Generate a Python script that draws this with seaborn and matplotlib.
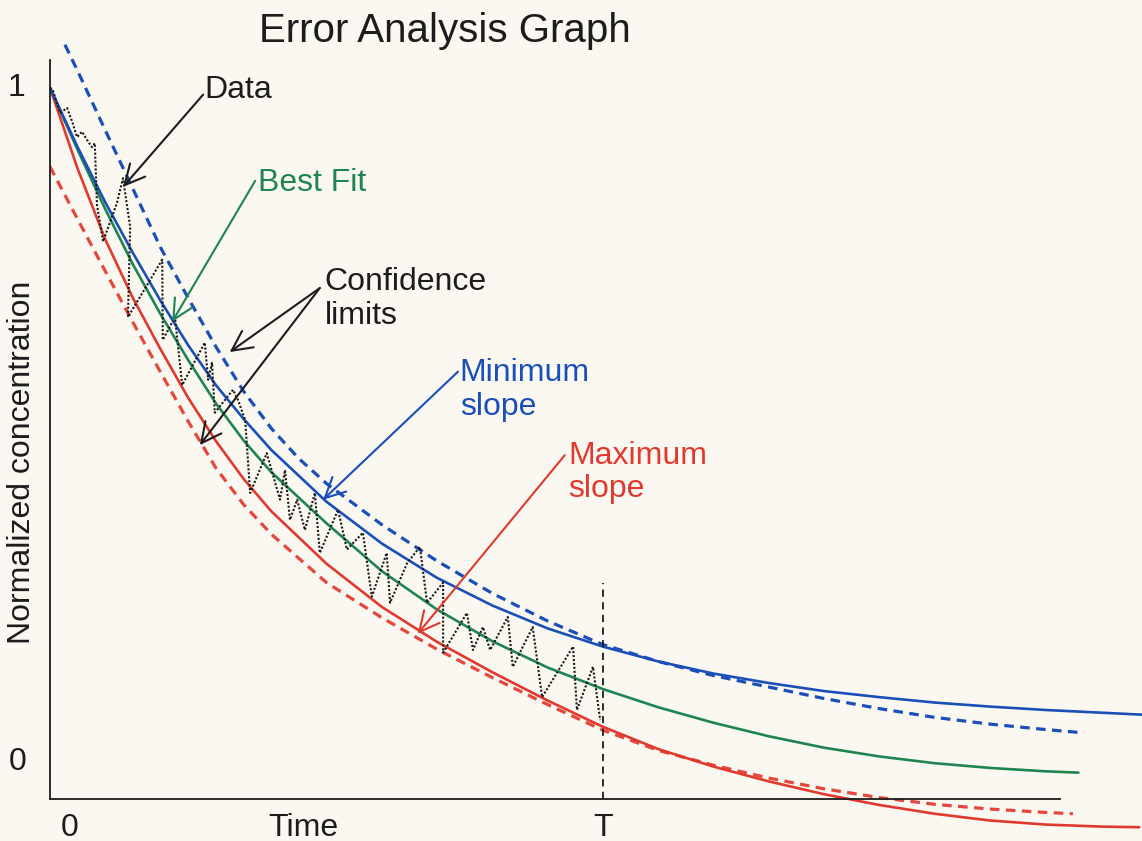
import matplotlib
matplotlib.use("Agg")
import matplotlib.pyplot as plt
import pandas as pd
import seaborn as sns

# ---------------- data ----------------
# time axis: 0 .. T (T = 1); concentration normalised 0 .. 1
best_fit_t = [0, .05, .1, .15, .2, .25, .3, .35, .4, .5, .6, .7, .8, .9, 1.0,
              1.1, 1.2, 1.3, 1.4, 1.5, 1.6, 1.7, 1.8, 1.86]
best_fit_y = [1.000, .908, .820, .738, .664, .596, .532, .477, .430, .354, .283,
              .226, .179, .140, .108, .081, .058, .038, .021, .008, -.002, -.009,
              -.014, -.016]

min_slope_t = [0, .05, .1, .15, .2, .25, .3, .35, .4, .5, .6, .7, .8, .9, 1.0,
               1.1, 1.2, 1.3, 1.4, 1.5, 1.6, 1.7, 1.8, 1.9, 1.975]
min_slope_y = [1.000, .912, .830, .755, .684, .618, .559, .509, .463, .386, .324,
               .273, .232, .198, .171, .149, .131, .117, .105, .096, .088, .082,
               .077, .073, .070]

max_slope_t = [0, .05, .1, .15, .2, .25, .3, .35, .4, .5, .6, .7, .8, .9, 1.0,
               1.1, 1.2, 1.3, 1.4, 1.5, 1.6, 1.7, 1.8, 1.9, 1.97]
max_slope_y = [1.000, .880, .775, .688, .612, .540, .476, .420, .372, .294, .230,
               .178, .133, .091, .052, .019, -.007, -.029, -.048, -.064, -.077,
               -.087, -.093, -.096, -.097]

upper_conf_t = [.027, .05, .1, .15, .2, .25, .3, .35, .4, .45, .5, .6, .7, .8, .9,
                1.0, 1.1, 1.2, 1.3, 1.4, 1.5, 1.6, 1.7, 1.8, 1.87]
upper_conf_y = [1.064, 1.025, .937, .850, .763, .688, .616, .550, .495, .450, .413,
                .352, .298, .250, .209, .174, .149, .128, .111, .094, .079, .066,
                .056, .048, .043]

lower_conf_t = [0, .05, .1, .15, .2, .25, .3, .35, .4, .5, .6, .7, .8, .9, 1.0,
                1.1, 1.2, 1.3, 1.4, 1.5, 1.6, 1.7, 1.8, 1.85]
lower_conf_y = [.883, .805, .728, .652, .578, .505, .436, .382, .338, .266, .214,
                .167, .125, .085, .047, .017, -.005, -.024, -.040, -.053, -.063,
                -.070, -.075, -.077]

data_t = [0.000, 0.005, 0.018, 0.031, 0.040, 0.049, 0.058, 0.069, 0.076, 0.081,
          0.085, 0.096, 0.121, 0.132, 0.145, 0.141, 0.203, 0.204, 0.226, 0.239,
          0.280, 0.286, 0.293, 0.298, 0.331, 0.340, 0.353, 0.362, 0.392, 0.416,
          0.425, 0.434, 0.447, 0.461, 0.479, 0.488, 0.521, 0.537, 0.566, 0.582,
          0.609, 0.615, 0.646, 0.669, 0.682, 0.711, 0.711, 0.754, 0.765, 0.783,
          0.796, 0.828, 0.837, 0.873, 0.890, 0.946, 0.953, 0.982, 0.995]
data_y = [1.000, 0.997, 0.963, 0.970, 0.950, 0.927, 0.935, 0.920, 0.912, 0.918,
          0.826, 0.772, 0.829, 0.866, 0.794, 0.660, 0.745, 0.626, 0.660, 0.559,
          0.622, 0.567, 0.592, 0.518, 0.552, 0.537, 0.507, 0.399, 0.458, 0.389,
          0.433, 0.359, 0.389, 0.344, 0.399, 0.310, 0.374, 0.315, 0.340, 0.245,
          0.310, 0.236, 0.295, 0.319, 0.236, 0.266, 0.162, 0.221, 0.166, 0.200,
          0.166, 0.215, 0.141, 0.200, 0.096, 0.171, 0.077, 0.141, 0.062]

T_time = 1.0
T_line_top = 0.266
axis_level = -0.055
y_axis_top = 1.042
x_axis_end = 1.826

x_tick_labels = ["0", "Time", "T"]
y_tick_labels = ["1", "0"]

# ---------------- style ----------------
sns.set_theme(style="white")
plt.rcParams["font.family"] = ["Liberation Sans", "DejaVu Sans"]
BG = "#fbf8f1"
BLUE = "#1a4fb8"
GREEN = "#1f8450"
RED = "#e03a30"
RED_D = "#e5473c"
INK = "#1c1c1c"

fig = plt.figure(figsize=(11.42, 8.41), dpi=100, facecolor=BG)
ax = fig.add_axes([50 / 1142, 5 / 841, 1092 / 1142, 796 / 841])
ax.set_facecolor(BG)


def curve(t, y, **kw):
    df = pd.DataFrame({"t": t, "y": y})
    sns.lineplot(data=df, x="t", y="y", ax=ax, sort=False, estimator=None, **kw)


curve(upper_conf_t, upper_conf_y, color=BLUE, lw=2.3, dashes=(3, 2))
curve(lower_conf_t, lower_conf_y, color=RED_D, lw=2.3, dashes=(3, 2))
curve(max_slope_t, max_slope_y, color=RED, lw=1.9)
curve(best_fit_t, best_fit_y, color=GREEN, lw=1.9)
curve(min_slope_t, min_slope_y, color=BLUE, lw=1.9)
curve(data_t, data_y, color="#1a1a1a", lw=1.5, dashes=(1, 0.9))

ax.vlines(T_time, axis_level, T_line_top, colors=INK, lw=1.3,
          linestyles=(0, (4, 3)))

ax.set_xlim(0, 1.975)
ax.set_ylim(-0.110, 1.071)
ax.set_xticks([])
ax.set_yticks([])
ax.set_xlabel("")
ax.set_ylabel("")
for s in ["top", "right"]:
    ax.spines[s].set_visible(False)
ax.spines["left"].set_position(("data", 0))
ax.spines["left"].set_bounds(axis_level, y_axis_top)
ax.spines["bottom"].set_position(("data", axis_level))
ax.spines["bottom"].set_bounds(0, x_axis_end)
for s in ["left", "bottom"]:
    ax.spines[s].set_color(INK)
    ax.spines[s].set_linewidth(1.3)

# tick-like labels
fs = 23
ax.text(0.036, -0.098, x_tick_labels[0], fontsize=fs, color=INK, ha="center", va="center")
ax.text(0.459, -0.098, x_tick_labels[1], fontsize=fs, color=INK, ha="center", va="center")
ax.text(T_time, -0.098, x_tick_labels[2], fontsize=fs, color=INK, ha="center", va="center")
ax.text(-0.060, 1.0, y_tick_labels[0], fontsize=fs, color=INK, ha="center", va="center")
ax.text(-0.058, 0.0, y_tick_labels[1], fontsize=fs, color=INK, ha="center", va="center")

fig.text(22 / 1142, 1 - 462 / 841, "Normalized concentration", rotation=90,
         fontsize=fs, color=INK, ha="center", va="center")
fig.text(445 / 1142, 1 - 31 / 841, "Error Analysis Graph", fontsize=29,
         color=INK, ha="center", va="center")

# annotations
def arrow(start, tip, color):
    ax.annotate("", xy=tip, xytext=start,
                arrowprops=dict(arrowstyle="->,head_length=0.6,head_width=0.3",
                                color=color, lw=1.5, mutation_scale=24,
                                shrinkA=0, shrinkB=0))


ax.text(0.280, 0.997, "Data", fontsize=fs, color=INK, ha="left", va="center")
arrow((0.277, 0.990), (0.132, 0.853), INK)

ax.text(0.376, 0.859, "Best Fit", fontsize=fs, color=GREEN, ha="left", va="center")
arrow((0.371, 0.862), (0.221, 0.653), GREEN)

ax.text(0.497, 0.687, "Confidence\nlimits", fontsize=fs, color=INK, ha="left",
        va="center", linespacing=1.2)
arrow((0.488, 0.703), (0.325, 0.608), INK)
arrow((0.488, 0.703), (0.271, 0.470), INK)

ax.text(0.741, 0.552, "Minimum\nslope", fontsize=fs, color=BLUE, ha="left",
        va="center", linespacing=1.15)
arrow((0.738, 0.579), (0.494, 0.389), BLUE)

ax.text(0.937, 0.429, "Maximum\nslope", fontsize=fs, color=RED, ha="left",
        va="center", linespacing=1.15)
arrow((0.931, 0.455), (0.665, 0.190), RED)

fig.savefig("out.png", dpi=100, facecolor=BG)
